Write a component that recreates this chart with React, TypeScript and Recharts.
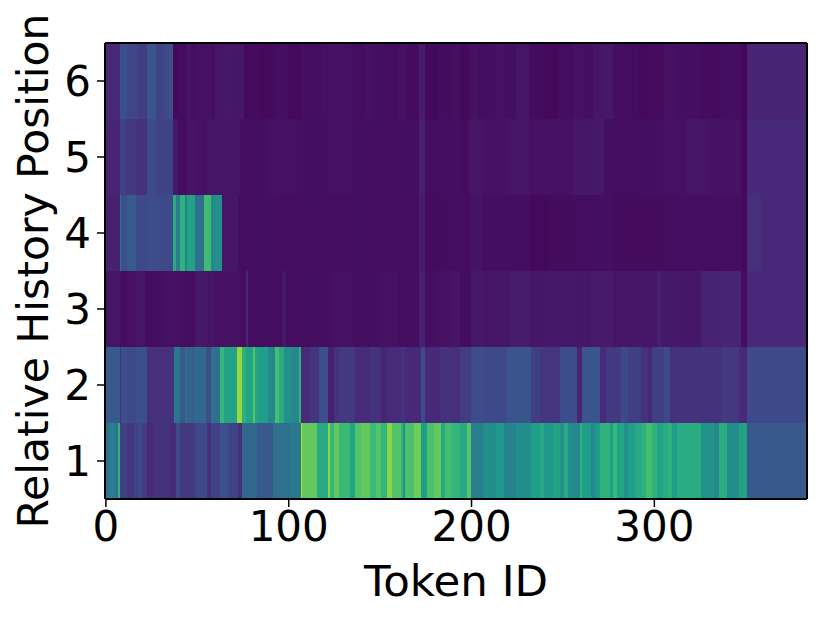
import { BarChart, Bar, Cell, XAxis, YAxis } from "recharts";

// each row is a list of [last token (exclusive), colour value 0..1]
const row1 = [[2,.33],[5.5,.38],[7,.33],[8,.58],[12,.17],[15.5,.14],[18,.18],[20,.2],[23,.16],[27,.11],[34.5,.13],[39,.11],[40.5,.2],[49,.15],[55.5,.2],[57.3,.12],[62.8,.18],[67.3,.22],[72.8,.18],[74.6,.12],[82.8,.3],[92,.25],[100.2,.33],[106.5,.36],[108,.8],[115.6,.68],[121.4,.54],[122.5,.74],[125,.6],[127.4,.68],[133.8,.61],[136.5,.52],[139.3,.65],[144.7,.68],[148,.61],[150.2,.65],[153.9,.59],[156.6,.74],[161.1,.65],[163,.59],[163.9,.45],[168.5,.64],[172.1,.7],[175.4,.5],[179.4,.64],[184,.68],[185.2,.54],[188.1,.63],[194,.59],[198,.54],[199.5,.66],[206.4,.38],[214,.44],[217.7,.48],[225,.4],[232.3,.44],[237.7,.5],[239.6,.54],[245,.48],[248.7,.52],[250.9,.45],[252.7,.54],[255.6,.44],[259.3,.42],[260.6,.58],[266,.5],[267.3,.43],[270.6,.48],[276,.58],[277.9,.5],[280,.6],[283.3,.52],[285.2,.45],[289.7,.5],[292.8,.54],[295.7,.57],[298.3,.63],[301.6,.58],[304.8,.52],[307.9,.55],[309.8,.58],[312.5,.5],[326,.55],[332.5,.46],[335.8,.42],[339.9,.56],[346.2,.44],[350.8,.52],[384,.25]];
const row2 = [[7.1,.25],[8.9,.13],[11.7,.22],[16.2,.2],[22.6,.22],[34.5,.12],[37.2,.13],[40.5,.35],[43.6,.25],[44.9,.32],[49,.28],[54.6,.3],[57.3,.22],[62.8,.33],[64.2,.6],[71.9,.52],[74.6,.76],[77,.57],[80.1,.52],[81.9,.66],[83.8,.52],[88.3,.5],[92.9,.42],[94.7,.63],[97.4,.55],[102,.45],[105.7,.42],[107,.58],[111.9,.11],[116.5,.14],[121.4,.22],[125,.08],[127.4,.13],[136.5,.15],[144.7,.11],[150.2,.13],[153.9,.09],[161.1,.11],[163.9,.13],[172.1,.1],[174.9,.2],[183,.1],[187.6,.13],[194,.12],[199.5,.16],[207.7,.21],[219.6,.2],[232.3,.24],[237.7,.17],[248.7,.14],[257.8,.21],[260.6,.09],[270.6,.24],[273.3,.11],[281.5,.15],[285.2,.2],[292.6,.17],[296.1,.13],[298.3,.1],[305.2,.17],[308.9,.2],[312.5,.12],[336.2,.13],[346.2,.15],[350.8,.1],[384,.2]];
const row3 = [[8,.05],[12,.03],[17,.04],[21.5,.05],[26,.03],[32.6,.035],[40.9,.04],[49,.03],[55.5,.06],[60,.05],[68,.04],[73.7,.045],[76.5,.03],[77.5,.09],[85,.03],[92,.035],[96.5,.03],[99,.06],[108,.03],[116,.035],[124,.03],[135,.04],[150,.035],[160,.04],[172,.03],[175,.08],[180,.035],[190,.04],[194,.05],[199.4,.03],[206.8,.06],[214,.05],[221.3,.055],[231.4,.07],[240,.055],[256,.06],[266,.055],[277.9,.065],[290,.05],[301.6,.055],[303.5,.08],[315,.06],[325.3,.055],[337,.085],[347.2,.09],[350.8,.03],[384,.1]];
const row4 = [[8,.08],[9,.35],[11.7,.22],[17,.26],[22.6,.2],[29.9,.21],[36.7,.2],[38.7,.55],[40.5,.38],[43.6,.58],[44.9,.4],[49,.52],[54,.33],[57.3,.62],[60,.42],[63.1,.45],[68,.05],[72.8,.055],[76.5,.03],[85,.03],[95,.035],[105,.03],[115,.035],[122,.03],[135,.03],[150,.035],[160,.03],[172,.03],[175,.07],[185,.025],[194,.03],[199.4,.03],[205.8,.045],[216.8,.035],[231.4,.035],[243,.02],[256,.025],[266.9,.03],[277.9,.035],[290,.025],[305.2,.025],[325,.03],[347.2,.03],[350.8,.02],[359,.12],[384,.1]];
const row5 = [[8,.09],[11,.18],[16.2,.15],[22.6,.13],[28,.2],[36.9,.18],[40,.06],[44.5,.03],[50,.05],[55.5,.04],[65,.05],[73.7,.05],[77.4,.03],[90,.035],[105,.04],[122,.035],[135,.04],[150,.035],[160,.03],[172,.035],[175,.08],[185,.03],[194,.035],[198.5,.025],[206.8,.05],[220,.045],[231.4,.05],[245,.04],[256,.04],[266,.055],[272.4,.06],[277.9,.035],[292.4,.03],[305,.035],[318,.04],[330,.05],[347.2,.045],[350.8,.02],[384,.1]];
const row6 = [[8,.1],[11.7,.22],[18,.19],[22.6,.16],[27.2,.24],[31.8,.18],[34.5,.2],[36.9,.22],[40,.02],[44.5,.03],[47,.05],[50,.03],[57.3,.04],[60,.03],[64.6,.05],[70,.06],[75.5,.055],[77.4,.02],[85,.025],[92,.02],[95,.03],[99.3,.035],[106.6,.02],[112,.035],[117.5,.03],[123,.04],[128.5,.045],[135,.04],[142,.03],[147,.04],[155,.035],[160,.03],[165,.04],[172,.025],[175,.07],[182,.02],[186,.03],[190,.025],[194,.035],[198.5,.02],[204,.04],[206.8,.03],[214,.035],[218,.045],[225,.035],[231.4,.05],[240,.025],[248,.02],[256,.03],[262,.04],[266.9,.035],[272,.05],[277.9,.06],[285,.035],[292,.03],[296.1,.02],[305.2,.025],[312,.04],[325.3,.035],[336.2,.025],[347.2,.035],[350.8,.015],[384,.09]];

const rows = [row1, row2, row3, row4, row5, row6];
const tokenCount = 384;
const tokenTicks = [0, 100, 200, 300];
const rowLabels = ["1", "2", "3", "4", "5", "6"];
const rowTicks = [0.5, 1.5, 2.5, 3.5, 4.5, 5.5];
const viridis = ["#440154", "#482878", "#3e4989", "#31688e", "#26828e", "#1f9e89", "#35b779", "#6ece58", "#b5de2b", "#fde725"];

const hex = (c: string, i: number) => parseInt(c.slice(1 + i * 2, 3 + i * 2), 16);
const colour = (v: number) => {
  const p = Math.min(v * 10, 8.999);
  const i = Math.floor(p);
  const t = p - i;
  const mix = [0, 1, 2].map((k) => Math.round(hex(viridis[i], k) * (1 - t) + hex(viridis[i + 1], k) * t));
  return `rgb(${mix.join(",")})`;
};
const valueAt = (row: number[][], token: number) => (row.find((r) => token < r[0]) || row[row.length - 1])[1];

const data = Array.from({ length: tokenCount }, (_, token) => {
  const d: any = { token };
  rows.forEach((_r, i) => (d[`r${i}`] = 1));
  return d;
});

// bars overlap the next column by a pixel so no seams show between them
const HeatCell = (p: any) => (
  <rect x={p.x} y={p.y} width={p.width + 1} height={p.height} fill={p.fill} shapeRendering="crispEdges" />
);

const tickStyle = { fontSize: 42, fill: "#000", fontFamily: "DejaVu Sans" };
const axisLine = { stroke: "#000", strokeWidth: 2 };
const tickLine = { stroke: "#000", strokeWidth: 1.5 };

export default function App() {
  return (
    <div style={{ position: "absolute", left: 0, top: 0, background: "#fff" }}>
      <BarChart width={830} height={618} data={data} barCategoryGap={0} barGap={0} barSize={1.828} margin={{ top: 42, right: 22, bottom: 0, left: 0 }}>
        {rows.map((row, i) => (
          <Bar key={i} dataKey={`r${i}`} stackId="rows" isAnimationActive={false} shape={HeatCell}>
            {data.map((d) => (
              <Cell key={d.token} fill={colour(valueAt(row, d.token))} />
            ))}
          </Bar>
        ))}
        <XAxis xAxisId="top" orientation="top" dataKey="token" height={1} tick={false} tickLine={false} axisLine={axisLine} />
        <YAxis yAxisId="right" orientation="right" width={1} domain={[0, 6]} tick={false} tickLine={false} axisLine={axisLine} />
        <XAxis
          dataKey="token"
          height={119}
          ticks={tokenTicks}
          interval={0}
          tickSize={8}
          tickMargin={4}
          tick={tickStyle}
          axisLine={axisLine}
          tickLine={tickLine}
          label={{ value: "Token ID", position: "insideBottom", offset: 22, style: { ...tickStyle, fontSize: 43.5 } }}
        />
        <YAxis
          width={105}
          domain={[0, 6]}
          ticks={rowTicks}
          interval={0}
          tickFormatter={(v: number) => rowLabels[Math.floor(v)]}
          tickSize={8}
          tickMargin={6}
          tick={tickStyle}
          axisLine={axisLine}
          tickLine={tickLine}
          label={{ value: "Relative History Position", angle: -90, position: "insideLeft", offset: 0, dx: 33, dy: 0, style: { ...tickStyle, fontSize: 42.5, textAnchor: "middle" } }}
        />
      </BarChart>
    </div>
  );
}
